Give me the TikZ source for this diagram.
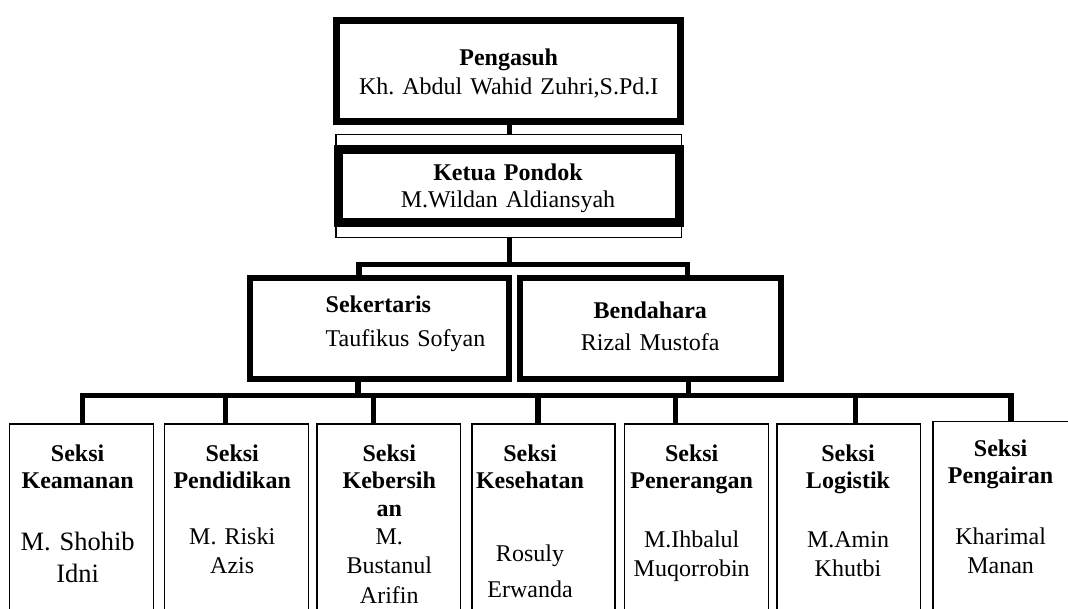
\documentclass[tikz,border=0pt]{standalone}
\usepackage{fontspec}
\setmainfont{Liberation Serif}
\usetikzlibrary{positioning}
\frenchspacing

\tikzset{
  garis/.style={line width=5.5pt},
  tebal/.style={draw, rectangle, inner sep=0pt, line width=#1},
  seksibox/.style={draw, rectangle, inner sep=0pt, line width=1.4pt, minimum height=196pt},
  judul/.style={anchor=base, text width=150pt, align=center, inner sep=0pt, font=\fontsize{24}{27.8}\selectfont\bfseries},
  nama/.style={anchor=base, text width=150pt, align=center, inner sep=0pt, font=\fontsize{24}{29.2}\selectfont},
  dua/.style={anchor=base, text width=340pt, align=center, inner sep=0pt},
}

\begin{document}
\begin{tikzpicture}[x=1pt,y=-1pt]
\useasboundingbox (0,0) rectangle (1068,608);
% Kotak pimpinan
\node[tebal=7pt, minimum width=344pt, minimum height=101pt] (pengasuh) at (508.5,71) {};
\node[tebal=1.3pt, minimum width=345.7pt, minimum height=103pt] (luar) at (508.85,185.8) {};
\node[tebal=9pt, minimum width=341pt, minimum height=73pt] (ketua) at (509,186) {};
\node[tebal=6pt, minimum width=258.5pt, minimum height=100.8pt] (sekre) at (379.55,328.4) {};
\node[tebal=6pt, minimum width=261.3pt, minimum height=100.8pt] (benda) at (650.65,328.4) {};
% Kotak seksi
\foreach \n/\cx/\w/\cy in {1/81.4/143.6/522, 2/236.4/143.6/522, 3/388.75/143.9/522, 4/543.4/143.2/522,
    5/696.2/144/522, 6/848.6/143.2/522, 7/1001.05/135.9/519.5} {
  \node[seksibox, minimum width=\w pt] (s\n) at (\cx,\cy) {};
}
% Garis
\coordinate (atas) at (509.5,264.5);
\coordinate (k1) at (358.8,264.5);
\coordinate (k2) at (687.3,264.5);
\draw[garis] (pengasuh.south -| atas) -- (luar.north -| atas);
\draw[garis] (luar.south -| atas) -- (atas);
\draw[garis] (sekre.north -| k1) -- (k1) -- (k2) -- (benda.north -| k2);
\coordinate (b1) at (358,395.3);
\coordinate (b2) at (688.3,395.3);
\draw[garis] (sekre.south -| b1) -- (b1);
\draw[garis] (benda.south -| b2) -- (b2);
\foreach \n/\dx in {1/82.7, 2/225.5, 3/373.5, 4/538, 5/675.6, 6/855.5, 7/1011} {
  \coordinate (c\n) at (\dx,395.3);
}
\draw[garis] (s1.north -| c1) -- (c1) -- (c7) -- (s7.north -| c7);
\foreach \n in {2,...,6} {
  \draw[garis] (c\n) -- (s\n.north -| c\n);
}
% Teks
\node[dua, font=\fontsize{24}{28.6}\selectfont] (tpengasuh) at (508.7,65.7) {\textbf{Pengasuh}\\Kh. Abdul Wahid Zuhri,S.Pd.I};
\node[dua, font=\fontsize{24}{27.3}\selectfont] (tketua) at (508,180) {\textbf{Ketua Pondok}\\M.Wildan Aldiansyah};
\node[dua, anchor=base west, text width=200pt, align=left, font=\fontsize{24}{34}\selectfont] (tsekre) at (325.5,312.7) {\textbf{Sekertaris}\\Taufikus Sofyan};
\node[dua, text width=250pt, font=\fontsize{24}{31.7}\selectfont] (tbenda) at (650.3,318.3) {\textbf{Bendahara}\\Rizal Mustofa};
\foreach \n/\cx/\ty/\teks in {1/77.6/461/{Seksi\\Keamanan}, 2/232.2/461/{Seksi\\Pendidikan}, 3/389.3/461/{Seksi\\Kebersih\\an},
    4/530/461/{Seksi\\Kesehatan}, 5/691.7/461/{Seksi\\Penerangan}, 6/848/461/{Seksi\\Logistik}, 7/1000.6/456/{Seksi\\Pengairan}} {
  \node[judul] (j\n) at (\cx,\ty) {\teks};
}
\foreach \n/\cx/\ty/\teks in {2/232.2/544.6/{M. Riski\\Azis}, 3/389.3/544.6/{M.\\Bustanul\\Arifin},
    5/691.7/547/{M.Ihbalul\\Muqorrobin}, 6/848/547/{M.Amin\\Khutbi}, 7/1000.6/544.3/{Kharimal\\Manan}} {
  \node[nama] (n\n) at (\cx,\ty) {\teks};
}
\node[nama, font=\fontsize{26.5}{32}\selectfont] (n1) at (77.6,550.5) {M. Shohib\\Idni};
\node[nama, font=\fontsize{24}{36.5}\selectfont] (n4) at (530,561) {Rosuly\\Erwanda};
\end{tikzpicture}
\end{document}
